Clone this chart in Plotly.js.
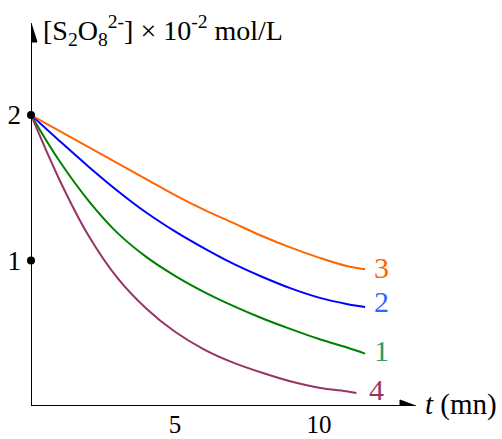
<!DOCTYPE html>
<html>
<head>
<meta charset="utf-8">
<script src="https://cdn.plot.ly/plotly-3.0.1.min.js"></script>
<style>html,body{margin:0;padding:0;background:#fff;}#chart{width:502px;height:439px;}</style>
</head>
<body>
<div id="chart"></div>
<script>
// Data
const tAll = [0, 1, 2, 3, 4, 5, 6, 7, 8, 9, 10, 11, 11.6];
const t4 = [0, 1, 2, 3, 4, 5, 6, 7, 8, 9, 10, 11, 11.3];
const curve1 = [2.0, 1.68, 1.41, 1.19, 1.025, 0.895, 0.785, 0.69, 0.605, 0.53, 0.46, 0.40, 0.36];
const curve2 = [2.0, 1.82, 1.645, 1.48, 1.33, 1.20, 1.085, 0.98, 0.89, 0.81, 0.745, 0.70, 0.68];
const curve3 = [2.0, 1.89, 1.78, 1.67, 1.56, 1.45, 1.35, 1.26, 1.17, 1.09, 1.02, 0.96, 0.94];
const curve4 = [2.0, 1.55, 1.17, 0.88, 0.67, 0.51, 0.39, 0.30, 0.23, 0.17, 0.125, 0.10, 0.09];
const curveNames = ['1', '2', '3', '4'];
const xTicks = [5, 10];
const yTicks = [1, 2];

const colors = {'1': '#008000', '2': '#0000FF', '3': '#FF6600', '4': '#993366'};
const labelColors = {'1': '#339966', '2': '#3366FF', '3': '#FF6600', '4': '#993366'};
const labelShift = {'1': [7, 3], '2': [7, 6], '3': [7, 2], '4': [11, 3]};
const serif = 'Liberation Serif';

const series = {'1': [tAll, curve1], '2': [tAll, curve2], '3': [tAll, curve3], '4': [t4, curve4]};

const traces = curveNames.map(n => ({
  x: series[n][0], y: series[n][1], mode: 'lines', type: 'scatter',
  line: {color: colors[n], width: 2, shape: 'spline', smoothing: 1},
  hoverinfo: 'skip', showlegend: false
}));
// marked points on the y axis
traces.push({x: [0, 0], y: yTicks, mode: 'markers', type: 'scatter',
  marker: {color: '#000', size: 8}, cliponaxis: false, showlegend: false, hoverinfo: 'skip'});

const pxX = 28.8, pxY = 145.5;
const xEnd = (400 - 31) / pxX, xTip = (416 - 31) / pxX;
const yEnd = (406 - 42) / pxY, yTip = (406 - 23) / pxY;
const hy = 6 / pxY, hx = 6 / pxX;

const annotations = curveNames.map(n => {
  const xs = series[n][0], ys = series[n][1];
  return {x: xs[xs.length - 1], y: ys[ys.length - 1], text: n, showarrow: false,
    xanchor: 'left', yanchor: 'middle', xshift: labelShift[n][0], yshift: labelShift[n][1],
    font: {family: serif, size: 30, color: labelColors[n]}};
});
annotations.push({xref: 'paper', yref: 'paper', x: 10 / 471, y: 1 - 30 / 406,
  text: '[S<sub>2</sub>O<sub>8</sub><sup>2-</sup>] × 10<sup>-2</sup> mol/L', showarrow: false,
  xanchor: 'left', yanchor: 'middle', font: {family: serif, size: 28, color: '#000'}});
annotations.push({x: xTip, y: 0, text: '<i>t</i> (mn)', showarrow: false,
  xanchor: 'left', yanchor: 'middle', xshift: 7, yshift: 2,
  font: {family: serif, size: 29, color: '#000'}});

const shapes = [
  {type: 'line', x0: 0, y0: 0, x1: xEnd, y1: 0, line: {color: '#000', width: 2}, layer: 'above'},
  {type: 'line', x0: 0, y0: 0, x1: 0, y1: yEnd, line: {color: '#000', width: 2}, layer: 'above'},
  {type: 'path', path: `M ${xEnd} ${hy} L ${xTip} 0 L ${xEnd} ${-hy} Z`, fillcolor: '#000', line: {color: '#000', width: 1}, layer: 'above'},
  {type: 'path', path: `M ${-hx} ${yEnd} L 0 ${yTip} L ${hx} ${yEnd} Z`, fillcolor: '#000', line: {color: '#000', width: 1}, layer: 'above'}
];

const layout = {
  width: 502, height: 439,
  margin: {l: 31, r: 0, t: 0, b: 33, pad: 0},
  paper_bgcolor: '#fff', plot_bgcolor: '#fff',
  font: {family: serif},
  xaxis: {range: [0, 471 / pxX], tickvals: xTicks, ticktext: xTicks.map(String),
    showgrid: false, zeroline: false, showline: false, ticks: '', ticklabelstandoff: 1,
    tickfont: {family: serif, size: 25, color: '#000'}, fixedrange: true},
  yaxis: {range: [0, 406 / pxY], tickvals: yTicks, ticktext: yTicks.map(String),
    showgrid: false, zeroline: false, showline: false, ticks: '', ticklabelstandoff: 9,
    tickfont: {family: serif, size: 27, color: '#000'}, fixedrange: true},
  shapes: shapes, annotations: annotations, showlegend: false
};

Plotly.newPlot('chart', traces, layout, {displayModeBar: false, staticPlot: true});
</script>
</body>
</html>
